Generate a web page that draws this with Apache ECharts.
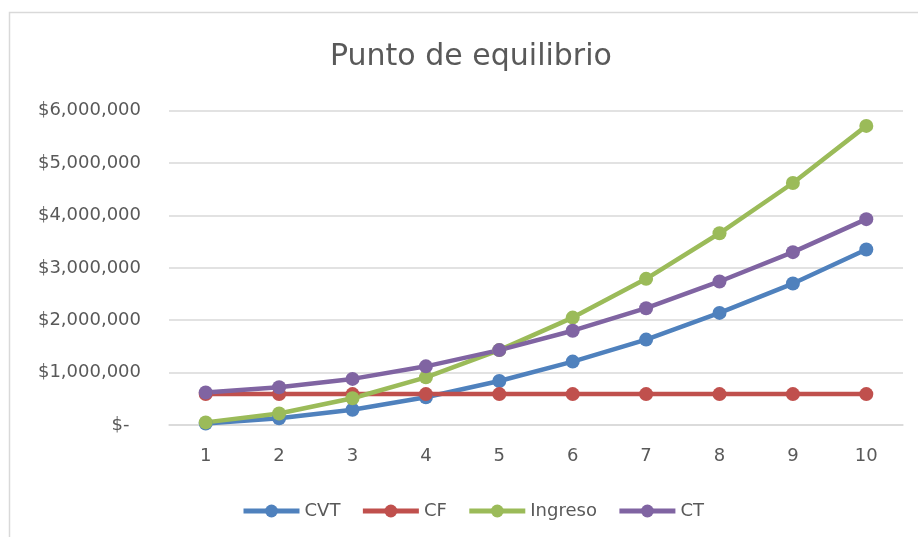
<!DOCTYPE html>
<html>
<head>
<meta charset="utf-8">
<script src="https://cdn.jsdelivr.net/npm/echarts@6/dist/echarts.min.js"></script>
<style>
html,body{margin:0;padding:0;background:#fff;}
#chart{width:918px;height:537px;}
</style>
</head>
<body>
<div id="chart"></div>
<script>
var categories = ['1','2','3','4','5','6','7','8','9','10'];
var cvt = [30000, 130000, 290000, 530000, 840000, 1210000, 1630000, 2140000, 2700000, 3350000];
var cf = [590000, 590000, 590000, 590000, 590000, 590000, 590000, 590000, 590000, 590000];
var ingreso = [50000, 220000, 510000, 910000, 1430000, 2050000, 2790000, 3660000, 4620000, 5710000];
var ct = [620000, 720000, 880000, 1120000, 1430000, 1800000, 2230000, 2740000, 3300000, 3930000];
var seriesNames = ['CVT', 'CF', 'Ingreso', 'CT'];
var seriesColors = ['#4F81BD', '#C0504D', '#9BBB59', '#8064A2'];
var seriesData = [cvt, cf, ingreso, ct];

var font = '"DejaVu Sans", "Liberation Sans", sans-serif';
var chart = echarts.init(document.getElementById('chart'));

function fmt(v) {
  if (v === 0) return '$-  ';
  return '$' + v.toString().replace(/\B(?=(\d{3})+(?!\d))/g, ',');
}

var series = seriesNames.map(function (n, i) {
  return {
    name: n,
    type: 'line',
    data: seriesData[i],
    symbol: 'circle',
    symbolSize: 14,
    lineStyle: { width: 4.5, color: seriesColors[i] },
    itemStyle: { color: seriesColors[i] },
    emphasis: { disabled: true }
  };
});

chart.setOption({
  animation: false,
  backgroundColor: '#fff',
  graphic: [{
    type: 'rect',
    shape: { x: 9.5, y: 12.5, width: 1000, height: 1000 },
    style: { fill: 'none', stroke: '#D9D9D9', lineWidth: 1.5 },
    z: -1
  }],
  title: {
    text: 'Punto de equilibrio',
    left: 325,
    top: 37,
    textStyle: { fontFamily: font, fontSize: 30, fontWeight: 'normal', color: '#595959' }
  },
  legend: {
    bottom: 12,
    left: 236,
    itemWidth: 56,
    itemHeight: 16,
    itemGap: 20,
    lineStyle: { width: 5 },
    textStyle: { fontFamily: font, fontSize: 18, color: '#595959', padding: [0, 0, 0, 0] },
    data: seriesNames
  },
  grid: { left: 169, right: 15, top: 110.7, bottom: 112 },
  xAxis: {
    type: 'category',
    data: categories,
    boundaryGap: true,
    axisLine: { lineStyle: { color: '#D9D9D9', width: 1.5 } },
    axisTick: { show: false },
    axisLabel: { fontFamily: font, fontSize: 18, color: '#595959', margin: 22 }
  },
  yAxis: {
    type: 'value',
    min: 0,
    max: 6000000,
    interval: 1000000,
    axisLine: { show: false },
    axisTick: { show: false },
    splitLine: { lineStyle: { color: '#D9D9D9', width: 1.5 } },
    axisLabel: { fontFamily: font, fontSize: 18, color: '#595959', margin: 28, formatter: fmt }
  },
  series: series
});
</script>
</body>
</html>
